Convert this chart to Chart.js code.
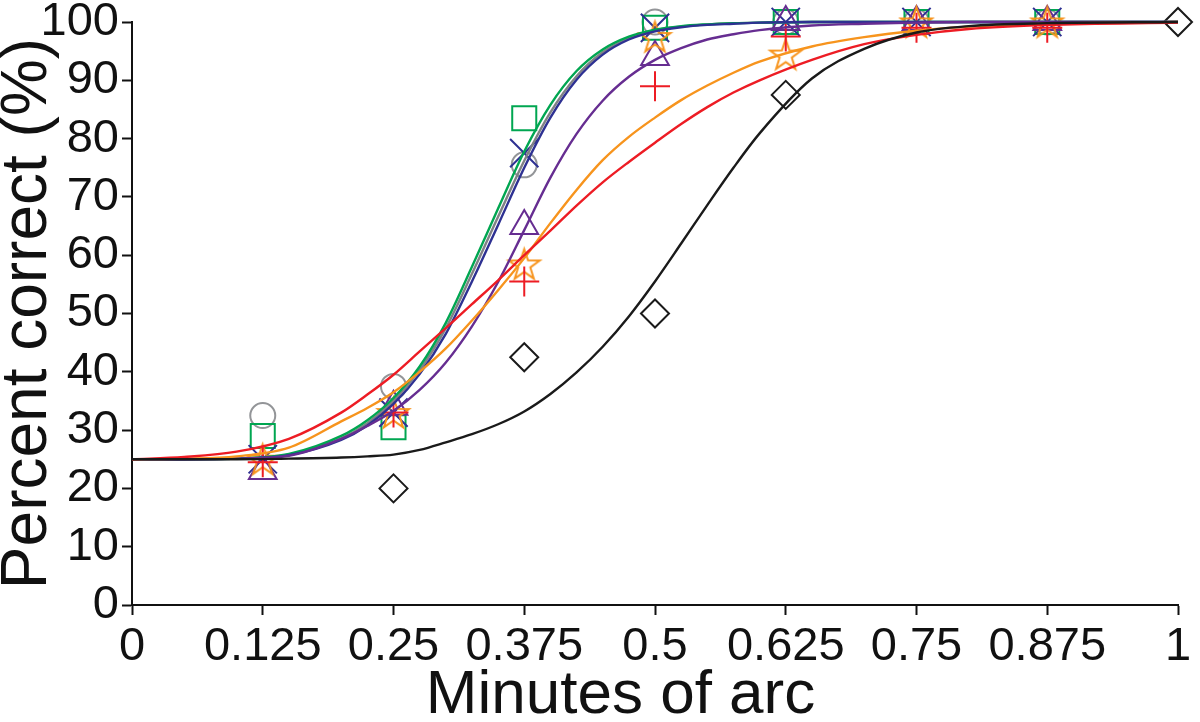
<!DOCTYPE html>
<html>
<head>
<meta charset="utf-8">
<script src="https://cdn.jsdelivr.net/npm/chart.js@4.4.1/dist/chart.umd.min.js"></script>
<style>
  html, body { margin: 0; padding: 0; background: #ffffff; }
  #c { display: block; }
</style>
</head>
<body>
<canvas id="c" width="1200" height="722"></canvas>
<script>
// ---- Data ----
const xTickValues = [0, 0.125, 0.25, 0.375, 0.5, 0.625, 0.75, 0.875, 1];
const xTickLabels = ["0", "0.125", "0.25", "0.375", "0.5", "0.625", "0.75", "0.875", "1"];
const yTickValues = [0, 10, 20, 30, 40, 50, 60, 70, 80, 90, 100];

// Observed points (percent correct) at each separation
const xLevels   = [0.125, 0.25, 0.375, 0.5, 0.625, 0.75, 0.875, 1];
const blackPts  = [null, 20, 42.5, 50, 87.5, null, null, 100];
const redPts    = [24.5, 33, 55.5, 89, 97.5, 99, 99, null];
const orangePts = [25, 33, 58.5, 97.5, 94.5, 100, 100, null];
const purplePts = [23, 34, 65, 94, 100, 100, 100, null];
const bluePts   = [25, 33, 77.5, 99, 100, 100, 100, null];
const greenPts  = [29, 30.5, 83.5, 99, 100, 100, 100, null];
const grayPts   = [32.5, 37.5, 75.5, 100, 100, 100, 100, null];

// Fitted curves at these x positions
const curveX    = [0, 0.05, 0.1, 0.15, 0.2, 0.225, 0.25, 0.275, 0.3, 0.325, 0.35, 0.375, 0.4, 0.425, 0.45, 0.475, 0.5, 0.525, 0.55, 0.575, 0.6, 0.65, 0.7, 0.75, 0.8, 0.875, 1];
const redFit    = [25, 25.4, 26.3, 28.5, 33, 36.1, 39.5, 43.5, 47.5, 51.6, 55.7, 60, 64.2, 68.5, 72.5, 76, 79.3, 82.5, 85.4, 87.9, 90, 93.5, 96.2, 97.8, 98.8, 99.5, 99.9];
const orangeFit = [25, 25.1, 25.5, 27, 31.5, 33.8, 36.5, 40, 44, 48.8, 54, 59.5, 65.5, 71.2, 76.3, 80.3, 83.6, 86.6, 89.1, 91.3, 93.2, 95.8, 97.4, 98.5, 99.2, 99.7, 100];
const purpleFit = [25, 25, 25.1, 25.6, 28.5, 30.7, 33.3, 36.9, 41.6, 47.8, 55.4, 64.3, 73.3, 80.8, 86.5, 90.6, 93.5, 95.5, 97, 97.9, 98.6, 99.4, 99.7, 99.9, 100, 100, 100];
const blueFit   = [25, 25, 25.1, 25.7, 28.3, 30.8, 34.5, 39.6, 46.5, 55.5, 65.2, 75, 83.6, 90.1, 94.4, 97, 98.4, 99.1, 99.5, 99.7, 99.9, 100, 100, 100, 100, 100, 100];
const greenFit  = [25, 25, 25.1, 25.9, 29, 31.7, 35.5, 40.9, 48.4, 58, 68, 77.8, 85.8, 91.6, 95.3, 97.5, 98.7, 99.3, 99.6, 99.8, 99.9, 100, 100, 100, 100, 100, 100];
const grayFit   = [25, 25, 25.1, 25.8, 28.6, 31.2, 35, 40.3, 47.5, 56.8, 66.6, 76.2, 84.5, 90.7, 94.8, 97.2, 98.6, 99.2, 99.6, 99.8, 99.9, 100, 100, 100, 100, 100, 100];
const blackFit  = [25, 25, 25, 25.1, 25.3, 25.5, 25.8, 26.6, 27.9, 29.3, 31, 33.2, 36.2, 39.9, 44.3, 49.5, 55.5, 62, 68.6, 75, 80.9, 90.3, 95.4, 98.2, 99.3, 99.8, 100];

// ---- Styling ----
const COL = {
  black: '#1a1a1a', red: '#ed1c24', orange: '#f7941d', purple: '#662d91',
  blue: '#2e3192', green: '#00a651', grayMark: '#939598', grayLine: '#808285'
};
const FONT = "'Liberation Sans', Arial, Helvetica, sans-serif";

function toPoints(xs, ys) {
  const out = [];
  xs.forEach((x, i) => { if (ys[i] !== null && ys[i] !== undefined) out.push({ x: x, y: ys[i] }); });
  return out;
}

function makeStar(color, R, r) {
  const size = Math.ceil(2 * R + 6);
  const c = document.createElement('canvas');
  c.width = size; c.height = size;
  const g = c.getContext('2d');
  g.strokeStyle = color; g.lineWidth = 2; g.lineJoin = 'miter';
  g.beginPath();
  for (let i = 0; i < 10; i++) {
    const ang = -Math.PI / 2 + i * Math.PI / 5;
    const rad = (i % 2 === 0) ? R : r;
    const px = size / 2 + rad * Math.cos(ang);
    const py = size / 2 + 1.5 + rad * Math.sin(ang);
    if (i === 0) g.moveTo(px, py); else g.lineTo(px, py);
  }
  g.closePath();
  g.stroke();
  return c;
}
const starImg = makeStar(COL.orange, 16.3, 6.4);

function curve(label, ys, color) {
  return {
    label: label, data: toPoints(curveX, ys), showLine: true, borderColor: color,
    borderWidth: 2.4, pointRadius: 0, pointHoverRadius: 0, fill: false,
    cubicInterpolationMode: 'monotone', order: 1, clip: false
  };
}
function marks(label, ys, color, style, radius) {
  return {
    label: label, data: toPoints(xLevels, ys), showLine: false,
    pointStyle: style, pointRadius: radius, pointHoverRadius: radius,
    pointBorderColor: color, pointBackgroundColor: 'rgba(0,0,0,0)',
    pointBorderWidth: 2, borderColor: color, backgroundColor: 'rgba(0,0,0,0)',
    order: 2, clip: false
  };
}

const datasets = [
  curve('Black fit', blackFit, COL.black),
  curve('Red fit', redFit, COL.red),
  curve('Orange fit', orangeFit, COL.orange),
  curve('Purple fit', purpleFit, COL.purple),
  curve('Blue fit', blueFit, COL.blue),
  curve('Green fit', greenFit, COL.green),
  curve('Gray fit', grayFit, COL.grayLine),
  marks('Black', blackPts, COL.black, 'rectRot', 14),
  marks('Red', redPts, COL.red, 'cross', 15),
  marks('Orange', orangePts, COL.orange, starImg, 16),
  marks('Purple', purplePts, COL.purple, 'triangle', 16),
  marks('Blue', bluePts, COL.blue, 'crossRot', 20),
  marks('Green', greenPts, COL.green, 'rect', 17),
  marks('Gray', grayPts, COL.grayMark, 'circle', 12.5)
];

new Chart(document.getElementById('c'), {
  type: 'scatter',
  data: { datasets: datasets },
  options: {
    responsive: false,
    animation: false,
    devicePixelRatio: 1,
    layout: { padding: { top: 18, right: 19, left: 0, bottom: 0 } },
    plugins: { legend: { display: false }, tooltip: { enabled: false } },
    scales: {
      x: {
        type: 'linear', min: 0, max: 1, position: 'bottom',
        afterBuildTicks: (s) => { s.ticks = xTickValues.map(v => ({ value: v })); },
        afterFit: (s) => { s.height = 117; s.paddingLeft = 0; s.paddingRight = 0; },
        ticks: {
          color: '#111', padding: 4, maxRotation: 0, autoSkip: false,
          font: { family: FONT, size: 47 },
          callback: (v) => { const i = xTickValues.indexOf(v); return i >= 0 ? xTickLabels[i] : ''; }
        },
        grid: { drawOnChartArea: false, drawTicks: true, tickLength: 10, tickColor: '#111', tickWidth: 2 },
        border: { display: true, color: '#111', width: 2 },
        title: {
          display: true, text: 'Minutes of arc    ', color: '#111',
          font: { family: FONT, size: 62, lineHeight: 1 }, padding: { top: 0, bottom: -5 }
        }
      },
      y: {
        type: 'linear', min: 0, max: 100,
        afterBuildTicks: (s) => { s.ticks = yTickValues.map(v => ({ value: v })); },
        afterFit: (s) => { s.width = 132; s.paddingTop = 0; s.paddingBottom = 0; },
        ticks: {
          color: '#111', padding: 3, autoSkip: false,
          font: { family: FONT, size: 47 },
          callback: (v) => String(v)
        },
        grid: { drawOnChartArea: false, drawTicks: true, tickLength: 10, tickColor: '#111', tickWidth: 2 },
        border: { display: true, color: '#111', width: 2 },
        title: {
          display: true, text: 'Percent correct (%)', color: '#111',
          font: { family: FONT, size: 64, lineHeight: 1 }, padding: { top: -4, bottom: 0 }
        }
      }
    }
  }
});
</script>
</body>
</html>
